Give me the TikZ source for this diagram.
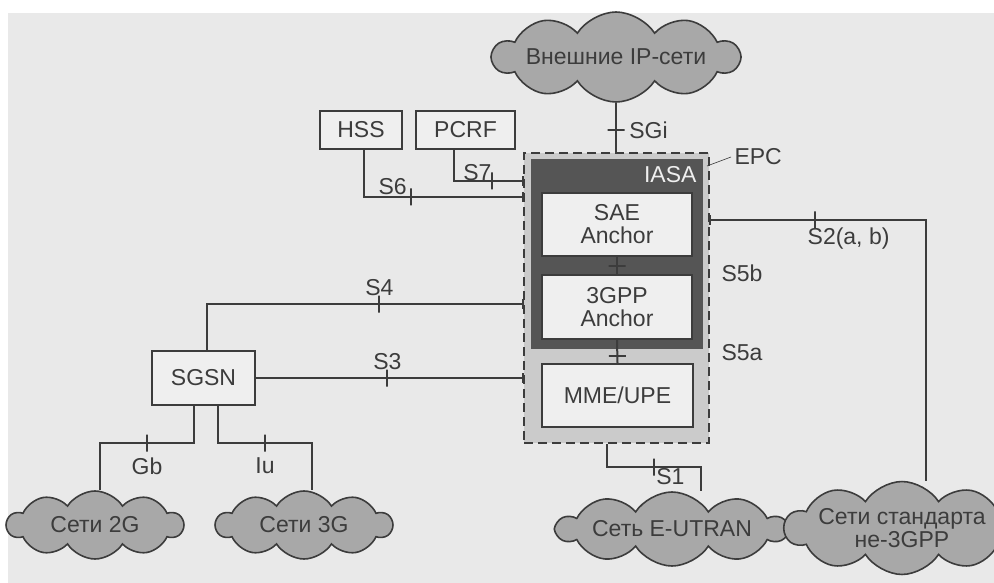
\documentclass[tikz,border=0pt]{standalone}
\usepackage{fontspec}
\setmainfont{Liberation Sans}
\usetikzlibrary{shapes.symbols,arrows.meta}
\definecolor{page}{HTML}{E9E9E9}
\definecolor{ln}{HTML}{3C3C3C}
\definecolor{cl}{HTML}{A8A8A8}
\definecolor{dk}{HTML}{555555}
\definecolor{lt}{HTML}{CBCBCB}
\definecolor{bx}{HTML}{EFEFEF}

\tikzset{
  every node/.style={font=\fontsize{23}{25}\selectfont, text=ln},
  conn/.style={draw=ln, line width=2pt},
  endbar/.style={-{Bar[width=10pt,line width=2pt]}},
  vtick/.style={draw=ln, line width=2pt, minimum width=0pt, minimum height=17pt, inner sep=0pt},
  htick/.style={draw=ln, line width=2pt, minimum height=0pt, minimum width=17pt, inner sep=0pt},
  netbox/.style={draw=ln, line width=2pt, fill=bx, inner sep=0pt, align=center},
  netcloud/.style={cloud, cloud puffs=10, cloud puff arc=115, cloud ignores aspect, draw=ln,
    line width=1.6pt, fill=cl, inner sep=0pt, align=center},
}

\begin{document}
\begin{tikzpicture}[x=1pt, y=-1pt]
  \useasboundingbox (0,0) rectangle (994,583);
  \clip (0,0) rectangle (994,583);
  \fill[white] (0,0) rectangle (994,583);
  \fill[page] (8,13) rectangle (994,583);
  % EPC core
  \node[draw=ln, dashed, dash pattern=on 9pt off 5pt, line width=2pt, fill=lt,
    minimum width=185pt, minimum height=290pt] (epc) at (616.5,298) {};
  \node[fill=dk, minimum width=172pt, minimum height=190pt] (iasa) at (617,254) {};
  \node[text=bx, anchor=east] (iasalbl) at (700,175) {IASA};
  \node[netbox, minimum width=150pt, minimum height=63pt] (sae) at (617,224.5) {SAE\\[-2pt]Anchor};
  \node[netbox, minimum width=150pt, minimum height=64pt] (gpp) at (617,307) {3GPP\\[-2pt]Anchor};
  \node[netbox, minimum width=151pt, minimum height=63pt] (mme) at (617.5,395.5) {MME/UPE};
  \node[anchor=west] (epclbl) at (731,157) {EPC};
  \draw[ln, line width=0.6pt] (707,166) -- (epclbl.west);
  % Boxes
  \node[netbox, minimum width=82pt, minimum height=38pt] (hss) at (361,130) {HSS};
  \node[netbox, minimum width=99pt, minimum height=38pt] (pcrf) at (465.5,130) {PCRF};
  \node[netbox, minimum width=103pt, minimum height=54pt] (sgsn) at (203.5,378) {SGSN};
  % Clouds
  \node[netcloud, minimum width=240pt, minimum height=90pt] (ext) at (616,57) {Внешние IP-сети};
  \node[netcloud, minimum width=176pt, minimum height=68pt] (c2g) at (95,525) {Сети 2G};
  \node[netcloud, minimum width=176pt, minimum height=68pt] (c3g) at (304,525) {Сети 3G};
  \node[netcloud, minimum width=230pt, minimum height=74pt] (eutran) at (672,529) {Сеть E-UTRAN};
  \node[netcloud, minimum width=214pt, minimum height=82pt] (non3gpp) at (902,528)
    {Сети стандарта\\[-2pt]не-3GPP};
  % Border points
  \coordinate (e6) at (524,197);
  \coordinate (e7) at (524,181);
  \coordinate (e4) at (524,304);
  \coordinate (e3) at (524,378);
  \coordinate (e2) at (709,220);
  \coordinate (k2) at (926,220);
  \coordinate (k1) at (701,467);
  \coordinate (kgb) at (100,443);
  \coordinate (kiu) at (312,443);
  % Links
  \draw[conn] (ext.south) -- node[htick, pos=0.55]{} node[right, xshift=9pt, pos=0.55]{SGi} (ext.south |- epc.north);
  \draw[conn, endbar] ([xshift=3pt]hss.south) |- node[vtick, pos=0.647]{} node[above left, pos=0.647, yshift=-2pt]{S6} (e6);
  \draw[conn, endbar] ([xshift=-11.5pt]pcrf.south) |- node[vtick, pos=0.77]{} node[above left, pos=0.77, xshift=4pt, yshift=-4pt]{S7} (e7);
  \draw[conn, endbar] ([xshift=3.5pt]sgsn.north) |- node[vtick, pos=0.772]{} node[above, pos=0.772, yshift=4pt]{S4} (e4);
  \draw[conn, endbar] (sgsn.east) -- node[vtick, pos=0.49]{} node[above, pos=0.49, yshift=4pt]{S3} (e3);
  \draw[conn] ([xshift=-9.5pt]sgsn.south) |- node[vtick, pos=0.75]{} node[below, pos=0.75, yshift=-10pt]{Gb} (kgb) -- (kgb |- c2g.north);
  \draw[conn] ([xshift=14.5pt]sgsn.south) |- node[vtick, pos=0.75]{} node[below, pos=0.75, yshift=-10pt]{Iu} (kiu) -- (kiu |- c3g.north);
  \draw[conn] ([xshift=-9.5pt]epc.south) |- node[vtick, pos=0.75]{} node[below right, pos=0.75, yshift=3pt, xshift=-2pt]{S1} (k1) -- (k1 |- eutran.north);
  \draw[conn, {Bar[width=10pt,line width=2pt]}-] (e2) -- node[vtick, pos=0.49]{} node[below right, pos=0.49, xshift=-12pt, yshift=-4pt]{S2(a, b)} (k2) -- (k2 |- non3gpp.north);
  \draw[conn] (sae) -- node[htick]{} (gpp);
  \draw[conn] (gpp.south) -- node[htick, pos=0.68]{} (mme.north);
  \node (s5b) at (742,273) {S5b};
  \node (s5a) at (742,353) {S5a};
\end{tikzpicture}
\end{document}
